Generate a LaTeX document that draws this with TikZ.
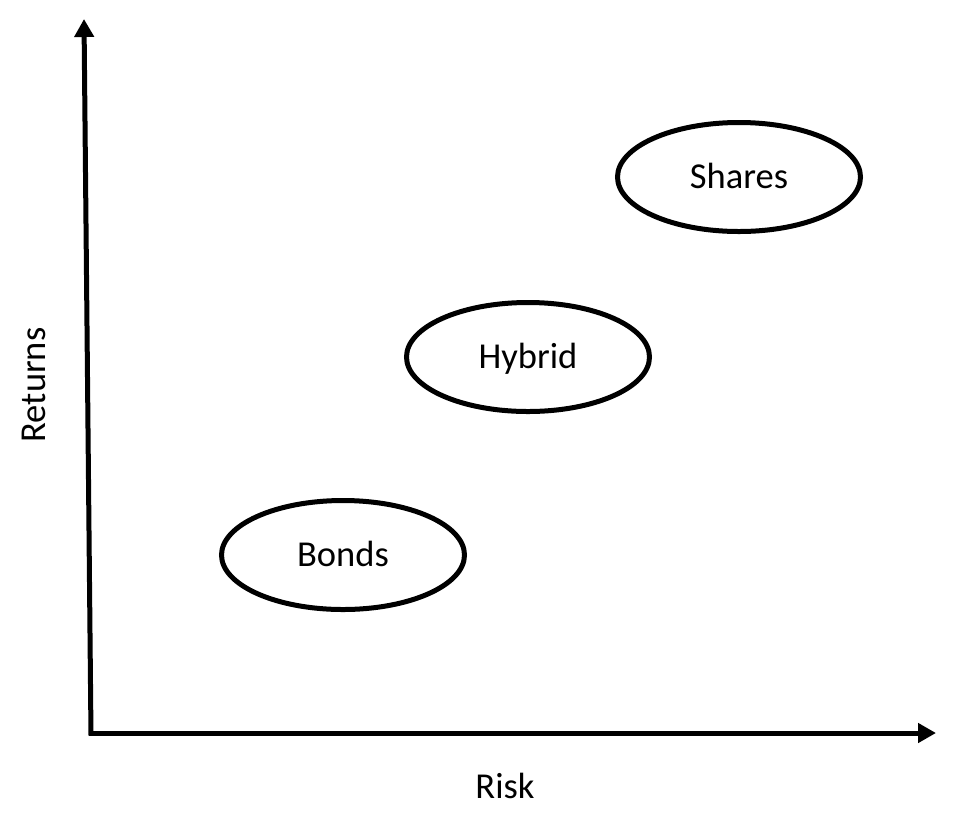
\documentclass[tikz,border=0pt]{standalone}
\usepackage{fontspec}
\setmainfont{Carlito}
\usetikzlibrary{arrows.meta,shapes.geometric}
\tikzset{
  axis/.style={line width=5pt, -{Triangle[length=18pt,width=19pt]}},
  txt/.style={font=\fontsize{36.5}{44}\selectfont},
  cls/.style={ellipse, draw, line width=5pt, minimum width=243pt, minimum height=109pt,
    inner sep=0pt, text height=23.5pt, text depth=0pt, txt},
  lbl/.style={inner sep=0pt, text height=23.5pt, text depth=0pt, txt}
}
\begin{document}
\begin{tikzpicture}[x=1pt,y=-1pt]
\useasboundingbox (0,0) rectangle (955,820);
\coordinate (o) at (91,733);
\coordinate (ytop) at (84,19);
\coordinate (xend) at (936,733);
\draw[axis] ([yshift=-2.5pt]o) -- (ytop);
\draw[axis] ([xshift=-2.5pt]o) -- (xend);
\node[cls] (shares) at (739,177) {Shares};
\node[cls] (hybrid) at (528,357) {Hybrid};
\node[cls] (bonds) at (343,555) {Bonds};
\node[lbl] (risk) at (505,787) {Risk};
\node[lbl, rotate=90] (returns) at (34,385) {Returns};
\end{tikzpicture}
\end{document}
